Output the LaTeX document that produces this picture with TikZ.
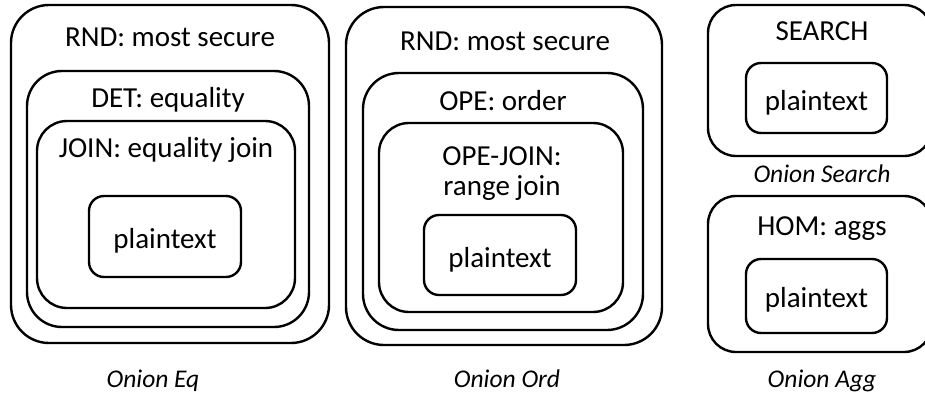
\documentclass[tikz,border=0pt]{standalone}
\usepackage{fontspec}
\setmainfont{Carlito}
\begin{document}
\begin{tikzpicture}[x=1pt, y=-1pt,
  layer/.style={draw=black, line width=2.4pt, inner sep=0pt, outer sep=0pt},
  lbl/.style={anchor=base, inner sep=0pt, font=\fontsize{29}{34}\selectfont},
  onioncap/.style={anchor=base, inner sep=0pt, font=\fontsize{25.5}{30}\selectfont\itshape}]
\useasboundingbox (0,0) rectangle (925,396);

% Onion Eq: RND > DET > JOIN > plaintext
\node[layer, minimum width=318pt, minimum height=338pt, rounded corners=38pt] (eqA) at (170,174) {};
\node[layer, minimum width=282pt, minimum height=256pt, rounded corners=35pt] (eqB) at (168,199) {};
\node[layer, minimum width=258pt, minimum height=187pt, rounded corners=30pt] (eqC) at (166,214.5) {};
\node[layer, minimum width=152pt, minimum height=81pt, rounded corners=15pt] (eqP) at (165,236.5) {};
\node[lbl] (eqAt) at (170,47) {RND: most secure};
\node[lbl] (eqBt) at (168,107) {DET: equality};
\node[lbl] (eqCt) at (166,157) {JOIN: equality join};
\node[lbl] (eqPt) at (165,248) {plaintext};
\node[onioncap] (eqCap) at (153,387) {Onion Eq};

% Onion Ord: RND > OPE > OPE-JOIN > plaintext
\node[layer, minimum width=316pt, minimum height=338pt, rounded corners=38pt] (ordA) at (504,176) {};
\node[layer, minimum width=280pt, minimum height=257pt, rounded corners=36pt] (ordB) at (503,201.5) {};
\node[layer, minimum width=244pt, minimum height=189pt, rounded corners=30pt] (ordC) at (501,217.5) {};
\node[layer, minimum width=152pt, minimum height=80pt, rounded corners=15pt] (ordP) at (500,255) {};
\node[lbl] (ordAt) at (505,51) {RND: most secure};
\node[lbl] (ordBt) at (503,110) {OPE: order};
\node[lbl] (ordCt) at (502,165) {OPE-JOIN:};
\node[lbl] (ordCu) at (502,195) {range join};
\node[lbl] (ordPt) at (500,267) {plaintext};
\node[onioncap] (ordCap) at (507,387) {Onion Ord};

% Onion Search: SEARCH > plaintext
\node[layer, minimum width=224pt, minimum height=151pt, rounded corners=28pt] (srA) at (820,80.5) {};
\node[layer, minimum width=141pt, minimum height=70pt, rounded corners=15pt] (srP) at (816.5,98) {};
\node[lbl] (srAt) at (822,41) {SEARCH};
\node[lbl] (srPt) at (816.5,110) {plaintext};
\node[onioncap] (srCap) at (822,182) {Onion Search};

% Onion Agg: HOM > plaintext
\node[layer, minimum width=224pt, minimum height=156pt, rounded corners=28pt] (agA) at (820,274) {};
\node[layer, minimum width=141pt, minimum height=74pt, rounded corners=15pt] (agP) at (816.5,296) {};
\node[lbl] (agAt) at (822,235) {HOM: aggs};
\node[lbl] (agPt) at (816.5,307) {plaintext};
\node[onioncap] (agCap) at (822,387) {Onion Agg};
\end{tikzpicture}
\end{document}
